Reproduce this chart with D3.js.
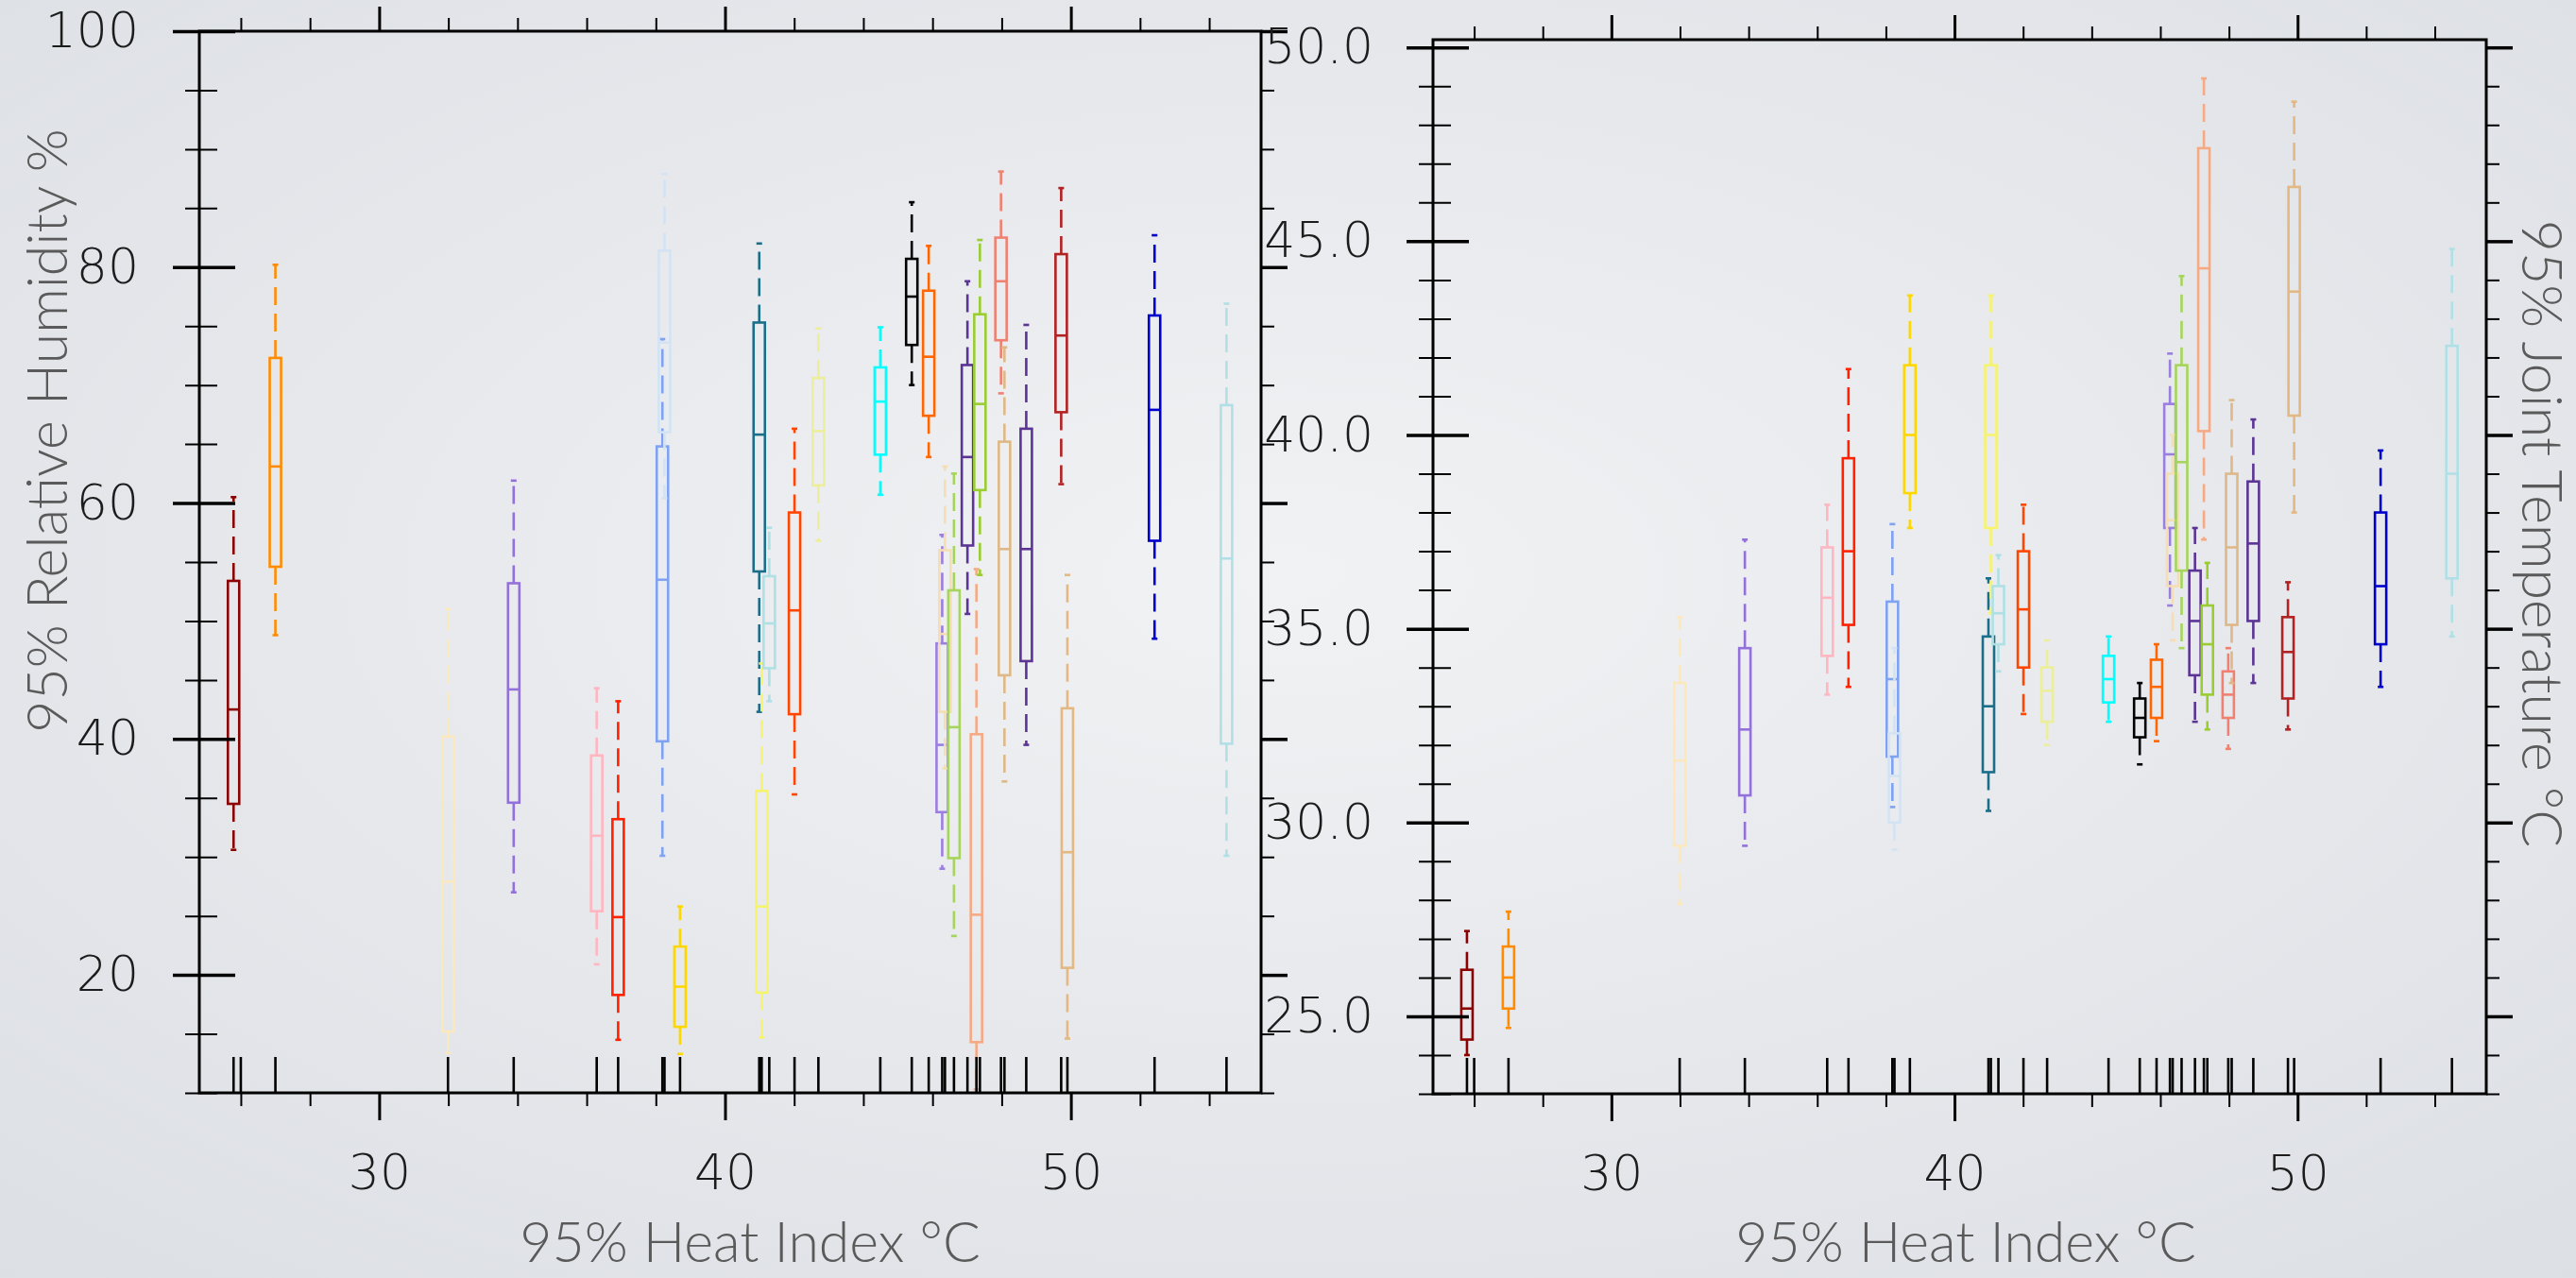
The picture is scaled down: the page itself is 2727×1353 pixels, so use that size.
<!DOCTYPE html>
<html>
<head>
<meta charset="utf-8">
<style>
  html, body { margin: 0; padding: 0; background: #e6e8ec; }
  svg { display: block; }
  .tick text { font-family: "DejaVu Sans", sans-serif; font-weight: 200; fill: #1c1c1c; }
  .tick line { stroke: #000; }
  .title { font-family: "Lato", "Open Sans", sans-serif; font-weight: 300; fill: #5a5a5a; font-size: 59px; }
  .frame { fill: none; stroke: #000; stroke-width: 3; }
  .rug { stroke: #000; stroke-width: 2.6; }
</style>
<script src="https://d3js.org/d3.v7.min.js"></script>
</head>
<body>
<svg width="2727" height="1353"></svg>
<script>

// heat index (x) of every station
var heatIndex = [25.79, 27.0, 31.99, 33.89, 36.29, 36.91, 38.19, 38.25, 38.70, 40.99,
                 41.06, 41.28, 42.01, 42.70, 44.49, 45.40, 45.89, 46.28, 46.36, 46.62,
                 47.01, 47.27, 47.37, 47.98, 48.08, 48.71, 49.72, 49.90, 52.42, 54.50];

// one extra rug mark without a visible box
var extraRug = [26.0];

var colors = ["#8b0000", "#ff8c00", "#fbe9bd", "#9370db", "#ffb6c1", "#ff2200", "#7fa2f2", "#d3e3f3", "#ffd700", "#1a6e8a",
              "#f6f46c", "#aee0e4", "#ff4500", "#ecee9a", "#00ffff", "#000000", "#ff6600", "#9b7fe0", "#f5deb3", "#a5d55a",
              "#5b3495", "#f6aa84", "#9acd32", "#f08070", "#deb887", "#5b3495", "#b22222", "#e3b882", "#0000cd", "#b0e0e6"];

// [low whisker, q1, median, q3, high whisker]
var relHumidity = [
  [30.6, 34.5, 42.5, 53.4, 60.5], [48.8, 54.6, 63.1, 72.3, 80.2], [13.4, 15.2, 27.9, 40.2, 51.0],
  [27.0, 34.6, 44.2, 53.2, 61.9], [20.9, 25.4, 31.8, 38.6, 44.3], [14.5, 18.3, 24.9, 33.2, 43.2],
  [30.1, 39.8, 53.5, 64.8, 73.9], [60.4, 66.0, 73.6, 81.4, 87.9], [13.3, 15.6, 19.0, 22.4, 25.8],
  [42.3, 54.2, 65.8, 75.3, 82.0], [14.7, 18.5, 25.8, 35.6, 46.4], [43.2, 46.0, 49.8, 53.8, 57.9],
  [35.3, 42.1, 50.9, 59.2, 66.3], [56.8, 61.5, 66.1, 70.6, 74.8], [60.7, 64.1, 68.6, 71.5, 74.9],
  [70.0, 73.4, 77.5, 80.7, 85.5], [63.9, 67.4, 72.4, 78.0, 81.8], [29.0, 33.8, 39.5, 48.1, 57.3],
  [37.5, 42.3, 48.9, 56.0, 63.1], [23.3, 29.9, 41.0, 52.6, 62.5], [50.6, 56.4, 63.9, 71.7, 78.8],
  [10.3, 14.3, 25.1, 40.4, 54.4], [53.9, 61.1, 68.4, 76.0, 82.3], [69.3, 73.8, 78.8, 82.5, 88.1],
  [36.4, 45.4, 56.1, 65.2, 73.2], [39.5, 46.6, 56.1, 66.3, 75.1], [61.6, 67.7, 74.2, 81.1, 86.7],
  [14.6, 20.6, 30.4, 42.6, 53.9], [48.5, 56.8, 67.9, 75.9, 82.7], [30.1, 39.6, 55.3, 68.3, 76.9]
];

var jointTemp = [
  [24.0, 24.4, 25.2, 26.2, 27.2], [24.7, 25.2, 26.0, 26.8, 27.7], [27.9, 29.4, 31.6, 33.6, 35.3],
  [29.4, 30.7, 32.4, 34.5, 37.3], [33.3, 34.3, 35.8, 37.1, 38.2], [33.5, 35.1, 37.0, 39.4, 41.7],
  [30.4, 31.7, 33.7, 35.7, 37.7], [29.3, 30.0, 31.2, 32.3, 34.5], [37.6, 38.5, 40.0, 41.8, 43.6],
  [30.3, 31.3, 33.0, 34.8, 36.3], [35.4, 37.6, 40.0, 41.8, 43.6], [33.9, 34.6, 35.4, 36.1, 36.9],
  [32.8, 34.0, 35.5, 37.0, 38.2], [32.0, 32.6, 33.4, 34.0, 34.7], [32.6, 33.1, 33.7, 34.3, 34.8],
  [31.5, 32.2, 32.7, 33.2, 33.6], [32.1, 32.7, 33.5, 34.2, 34.6], [35.6, 37.6, 39.5, 40.8, 42.1],
  [34.7, 36.1, 37.8, 39.0, 40.0], [34.5, 36.5, 39.3, 41.8, 44.1], [32.6, 33.8, 35.2, 36.5, 37.6],
  [37.3, 40.1, 44.3, 47.4, 49.2], [32.4, 33.3, 34.6, 35.6, 36.7], [31.9, 32.7, 33.3, 33.9, 34.5],
  [33.6, 35.1, 37.1, 39.0, 40.9], [33.6, 35.2, 37.2, 38.8, 40.4], [32.4, 33.2, 34.4, 35.3, 36.2],
  [38.0, 40.5, 43.7, 46.4, 48.6], [33.5, 34.6, 36.1, 38.0, 39.6], [34.8, 36.3, 39.0, 42.3, 44.8]
];

var xMajor = [30, 40, 50];
var xMinor = [26, 28, 32, 34, 36, 38, 42, 44, 46, 48, 52, 54];
var rhMajor = [20, 40, 60, 80, 100];
var rhMinor = [10, 15, 25, 30, 35, 45, 50, 55, 65, 70, 75, 85, 90, 95];
var jtMajor = [25, 30, 35, 40, 45, 50];
var jtMinor = d3.range(23, 51).filter(function(v) { return v % 5 !== 0; });

var svg = d3.select("svg");

var defs = svg.append("defs");
var grad = defs.append("radialGradient").attr("id", "bg")
    .attr("cx", "50%").attr("cy", "45%").attr("r", "75%");
grad.append("stop").attr("offset", "0%").attr("stop-color", "#f1f2f4");
grad.append("stop").attr("offset", "100%").attr("stop-color", "#dcdfe4");
svg.append("rect").attr("width", 2727).attr("height", 1353).attr("fill", "url(#bg)");

var xDomain = [24.8, 55.5];

var panels = [
  { left: 211, right: 1335, top: 33, bottom: 1157, yDomain: [10, 100], stats: relHumidity,
    major: rhMajor, minor: rhMinor, fmt: d3.format("d"), labelPad: 36 },
  { left: 1517, right: 2632, top: 42, bottom: 1158, yDomain: [23, 50.2], stats: jointTemp,
    major: jtMajor, minor: jtMinor, fmt: d3.format(".1f"), labelPad: 35 }
];

panels.forEach(function(p) {
  var x = d3.scaleLinear().domain(xDomain).range([p.left, p.right]);
  var y = d3.scaleLinear().domain(p.yDomain).range([p.bottom, p.top]);
  var g = svg.append("g");

  // boxes
  var boxes = g.append("g").selectAll("g")
    .data(heatIndex.map(function(h, i) { return { x: h, s: p.stats[i], c: colors[i] }; }))
    .enter().append("g")
      .attr("stroke", function(d) { return d.c; })
      .attr("fill", "none")
      .attr("stroke-width", 2.6);

  boxes.append("line")
      .attr("x1", function(d) { return x(d.x); }).attr("x2", function(d) { return x(d.x); })
      .attr("y1", function(d) { return y(d.s[3]); }).attr("y2", function(d) { return y(d.s[4]); })
      .attr("stroke-dasharray", "19,9");
  boxes.append("line")
      .attr("x1", function(d) { return x(d.x); }).attr("x2", function(d) { return x(d.x); })
      .attr("y1", function(d) { return y(d.s[1]); }).attr("y2", function(d) { return y(d.s[0]); })
      .attr("stroke-dasharray", "19,9");
  [0, 4].forEach(function(k) {
    boxes.append("line")
        .attr("x1", function(d) { return x(d.x) - 3; }).attr("x2", function(d) { return x(d.x) + 3; })
        .attr("y1", function(d) { return y(d.s[k]); }).attr("y2", function(d) { return y(d.s[k]); });
  });
  boxes.append("rect")
      .attr("x", function(d) { return x(d.x) - 6; })
      .attr("width", 12)
      .attr("y", function(d) { return y(d.s[3]); })
      .attr("height", function(d) { return y(d.s[1]) - y(d.s[3]); });
  boxes.append("line")
      .attr("x1", function(d) { return x(d.x) - 6; }).attr("x2", function(d) { return x(d.x) + 6; })
      .attr("y1", function(d) { return y(d.s[2]); }).attr("y2", function(d) { return y(d.s[2]); });

  // rug along the bottom
  g.append("g").selectAll("line")
    .data(heatIndex.concat(extraRug))
    .enter().append("line")
      .attr("class", "rug")
      .attr("x1", function(d) { return x(d); }).attr("x2", function(d) { return x(d); })
      .attr("y1", p.bottom).attr("y2", p.bottom - 38);

  // axes
  function axisG(axis, tx, ty, width, cross) {
    var a = g.append("g").attr("transform", "translate(" + tx + "," + ty + ")").call(axis);
    a.select(".domain").remove();
    a.selectAll(".tick line").attr("stroke-width", width);
    if (cross) a.selectAll(".tick line").attr("x2", -cross[0]).attr("x1", cross[1]);
    return a;
  }

  axisG(d3.axisBottom(x).tickValues(xMajor).tickSize(29).tickPadding(36).tickFormat(d3.format("d")), 0, p.bottom, 3)
    .selectAll("text").attr("font-size", 52);
  axisG(d3.axisBottom(x).tickValues(xMinor).tickSize(14).tickFormat(""), 0, p.bottom, 2);
  axisG(d3.axisTop(x).tickValues(xMajor).tickSize(26).tickFormat(""), 0, p.top, 3);
  axisG(d3.axisTop(x).tickValues(xMinor).tickSize(14).tickFormat(""), 0, p.top, 2);

  axisG(d3.axisLeft(y).tickValues(p.major).tickSize(28).tickPadding(p.labelPad).tickFormat(p.fmt), p.left, 0, 3.5, [28, 38])
    .selectAll("text").attr("font-size", 52);
  axisG(d3.axisLeft(y).tickValues(p.minor).tickSize(14).tickFormat(""), p.left, 0, 2, [15, 19]);
  axisG(d3.axisRight(y).tickValues(p.major).tickSize(28).tickFormat(""), p.right, 0, 3.5);
  axisG(d3.axisRight(y).tickValues(p.minor).tickSize(14).tickFormat(""), p.right, 0, 2);

  g.append("rect").attr("class", "frame")
      .attr("x", p.left).attr("y", p.top)
      .attr("width", p.right - p.left).attr("height", p.bottom - p.top);
});

// titles
svg.append("text").attr("class", "title")
    .attr("transform", "translate(71,456) rotate(-90)")
    .attr("text-anchor", "middle").text("95% Relative Humidity %");
svg.append("text").attr("class", "title")
    .attr("x", 794).attr("y", 1336).attr("text-anchor", "middle").text("95% Heat Index °C");
svg.append("text").attr("class", "title")
    .attr("x", 2081).attr("y", 1336).attr("text-anchor", "middle").text("95% Heat Index °C");
svg.append("text").attr("class", "title")
    .attr("transform", "translate(2670,565) rotate(90)")
    .attr("text-anchor", "middle").text("95% Joint Temperature °C");

</script>
</body>
</html>
